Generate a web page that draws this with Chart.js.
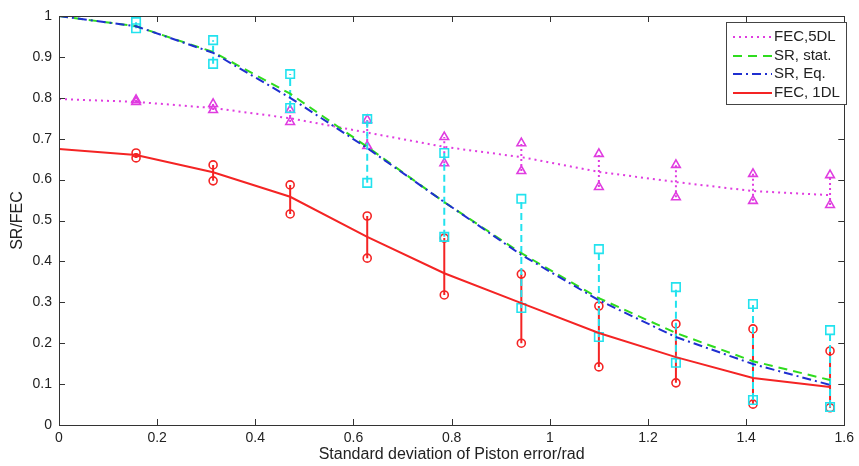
<!DOCTYPE html>
<html>
<head>
<meta charset="utf-8">
<script src="https://cdn.jsdelivr.net/npm/chart.js@4/dist/chart.umd.min.js"></script>
<style>
  html, body { margin: 0; padding: 0; background: #fff; }
  #wrap { position: relative; width: 859px; height: 466px; }
</style>
</head>
<body>
<div id="wrap"><canvas id="c" width="859" height="466"></canvas></div>
<script>
// ---- data ----
const xs = [0, 0.157, 0.314, 0.471, 0.628, 0.785, 0.942, 1.100, 1.257, 1.414, 1.571];
const srStat = [1.0, 0.975, 0.912, 0.81, 0.68, 0.545, 0.42, 0.31, 0.225, 0.156, 0.11];
const srEq   = [1.0, 0.975, 0.91, 0.80, 0.677, 0.545, 0.416, 0.305, 0.215, 0.149, 0.098];
const fec5   = [0.797, 0.79, 0.775, 0.75, 0.715, 0.68, 0.655, 0.619, 0.594, 0.572, 0.562];
const fec1   = [0.675, 0.66, 0.618, 0.558, 0.46, 0.371, 0.298, 0.225, 0.166, 0.115, 0.093];

const barX = [0.157, 0.314, 0.471, 0.628, 0.785, 0.942, 1.100, 1.257, 1.414, 1.571];
const srHi = [0.985, 0.941, 0.858, 0.748, 0.665, 0.553, 0.430, 0.337, 0.296, 0.232];
const srLo = [0.970, 0.883, 0.775, 0.592, 0.460, 0.286, 0.215, 0.152, 0.061, 0.044];
const f5Hi = [0.795, 0.785, 0.770, 0.746, 0.704, 0.689, 0.663, 0.636, 0.614, 0.611];
const f5Lo = [0.790, 0.770, 0.741, 0.682, 0.640, 0.621, 0.582, 0.557, 0.548, 0.538];
const f1Hi = [0.665, 0.636, 0.587, 0.511, 0.457, 0.369, 0.291, 0.247, 0.235, 0.181];
const f1Lo = [0.653, 0.597, 0.516, 0.408, 0.318, 0.200, 0.142, 0.103, 0.051, 0.042];

const xTicks = [0, 0.2, 0.4, 0.6, 0.8, 1, 1.2, 1.4, 1.6];
const xTickLabels = ['0', '0.2', '0.4', '0.6', '0.8', '1', '1.2', '1.4', '1.6'];
const yTicks = [0, 0.1, 0.2, 0.3, 0.4, 0.5, 0.6, 0.7, 0.8, 0.9, 1];
const yTickLabels = ['0', '0.1', '0.2', '0.3', '0.4', '0.5', '0.6', '0.7', '0.8', '0.9', '1'];

const legendLabels = ['FEC,5DL', 'SR, stat.', 'SR, Eq.', 'FEC, 1DL'];

// ---- styles ----
const C_MAG = '#e03ce0', C_GRN = '#2fdc1e', C_BLU = '#1f2fd0', C_RED = '#f42424', C_CYN = '#22e2ee';
const FONT = '"Liberation Sans", Arial, sans-serif';

const pts = (ys, xv) => ys.map((y, i) => ({ x: xv[i], y }));

const mainSets = [
  { label: legendLabels[0], data: pts(fec5, xs), borderColor: C_MAG, borderWidth: 2, borderDash: [2, 4], pointRadius: 0, order: 4, isMain: true },
  { label: legendLabels[1], data: pts(srStat, xs), borderColor: C_GRN, borderWidth: 2, borderDash: [9, 6], pointRadius: 0, order: 2, isMain: true },
  { label: legendLabels[2], data: pts(srEq, xs), borderColor: C_BLU, borderWidth: 2, borderDash: [9, 4, 2, 4], pointRadius: 0, order: 1, isMain: true },
  { label: legendLabels[3], data: pts(fec1, xs), borderColor: C_RED, borderWidth: 2, pointRadius: 0, order: 3, isMain: true }
];

function errSets(hi, lo, color, dash, style, radius, order) {
  return barX.map((x, i) => ({
    label: '',
    data: [{ x, y: lo[i] }, { x, y: hi[i] }],
    borderColor: color, borderWidth: 2, borderDash: dash,
    pointStyle: style, pointRadius: radius, pointBorderWidth: 1.6,
    pointBorderColor: color, pointBackgroundColor: 'rgba(0,0,0,0)',
    order
  }));
}

const datasets = [
  ...mainSets,
  ...errSets(f1Hi, f1Lo, C_RED, [], 'circle', 4, 7),
  ...errSets(f5Hi, f5Lo, C_MAG, [2, 3], 'triangle', 5, 6),
  ...errSets(srHi, srLo, C_CYN, [7, 4], 'rect', 6, 5)
];

const framePlugin = {
  id: 'frame',
  afterDatasetsDraw(chart) {
    const { ctx, chartArea: a, scales: { x, y } } = chart;
    ctx.save();
    ctx.strokeStyle = '#333';
    ctx.lineWidth = 1;
    ctx.setLineDash([]);
    const L = 6;
    ctx.beginPath();
    xTicks.forEach(v => {
      const px = Math.round(x.getPixelForValue(v)) + 0.5;
      ctx.moveTo(px, a.bottom); ctx.lineTo(px, a.bottom - L);
      ctx.moveTo(px, a.top); ctx.lineTo(px, a.top + L);
    });
    yTicks.forEach(v => {
      const py = Math.round(y.getPixelForValue(v)) + 0.5;
      ctx.moveTo(a.left, py); ctx.lineTo(a.left + L, py);
      ctx.moveTo(a.right, py); ctx.lineTo(a.right - L, py);
    });
    ctx.stroke();
    ctx.strokeRect(Math.round(a.left) + 0.5, Math.round(a.top) + 0.5, Math.round(a.right - a.left), Math.round(a.bottom - a.top));

    // legend
    const bx = 726.5, by = 22.5, bw = 120, bh = 82;
    ctx.fillStyle = '#fff';
    ctx.fillRect(bx, by, bw, bh);
    ctx.strokeStyle = '#444';
    ctx.strokeRect(bx, by, bw, bh);
    const rows = [37, 56, 74, 93];
    ctx.font = '15px ' + FONT;
    ctx.textBaseline = 'middle';
    ctx.textAlign = 'left';
    mainSets.forEach((d, i) => {
      ctx.strokeStyle = d.borderColor;
      ctx.lineWidth = 2;
      ctx.setLineDash(d.borderDash || []);
      ctx.beginPath();
      ctx.moveTo(733, rows[i]); ctx.lineTo(772, rows[i]);
      ctx.stroke();
      ctx.setLineDash([]);
      ctx.fillStyle = '#222';
      ctx.fillText(d.label, 774, rows[i]);
    });
    ctx.restore();
  }
};

new Chart(document.getElementById('c'), {
  type: 'line',
  data: { datasets },
  options: {
    responsive: false,
    animation: false,
    layout: { padding: { top: 16, right: 10, left: 0, bottom: 0 } },
    plugins: { legend: { display: false }, tooltip: { enabled: false } },
    scales: {
      x: {
        type: 'linear', min: 0, max: 1.6,
        grid: { display: false, drawTicks: false },
        border: { display: false },
        afterBuildTicks: s => { s.ticks = xTicks.map(v => ({ value: v })); },
        afterFit: s => { s.height = 41; },
        ticks: {
          padding: 5, maxRotation: 0, autoSkip: false,
          color: '#222', font: { family: FONT, size: 14 },
          callback: (v) => xTickLabels[xTicks.indexOf(v)]
        },
        title: { display: true, text: 'Standard deviation of Piston error/rad', color: '#222', font: { family: FONT, size: 16 }, padding: { top: 0, bottom: 2 } }
      },
      y: {
        type: 'linear', min: 0, max: 1,
        grid: { display: false, drawTicks: false },
        border: { display: false },
        afterBuildTicks: s => { s.ticks = yTicks.map(v => ({ value: v })); },
        afterFit: s => { s.width = 59; },
        ticks: {
          padding: 7, autoSkip: false,
          color: '#222', font: { family: FONT, size: 14 },
          callback: (v) => yTickLabels[yTicks.indexOf(v)]
        },
        title: { display: true, text: 'SR/FEC', color: '#222', font: { family: FONT, size: 16 }, padding: { top: 8, bottom: 0 } }
      }
    }
  },
  plugins: [framePlugin]
});
</script>
</body>
</html>
